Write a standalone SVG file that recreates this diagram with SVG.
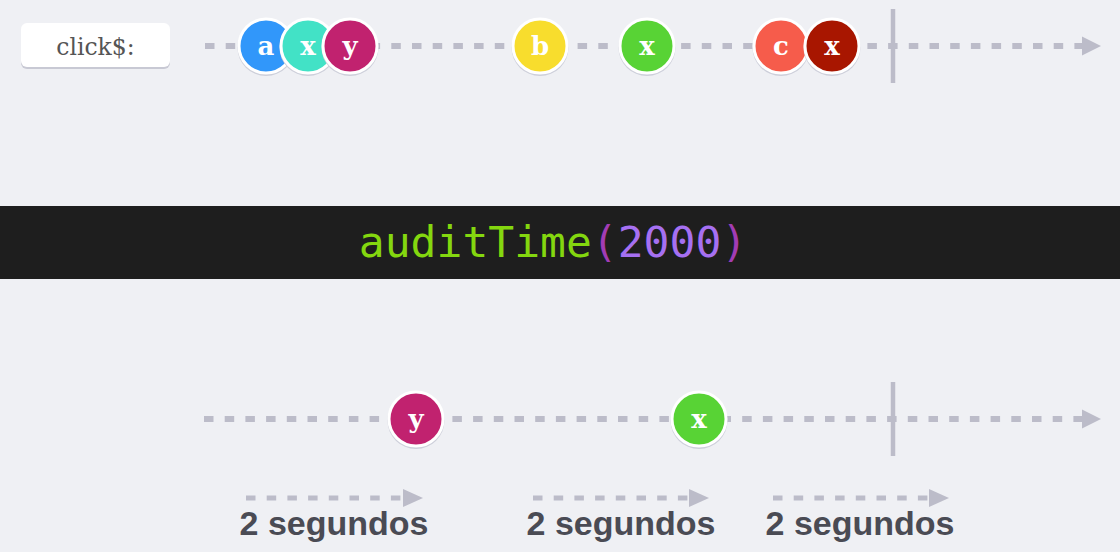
<svg xmlns="http://www.w3.org/2000/svg" width="1120" height="552" viewBox="0 0 1120 552">
  <defs>
    <style>
      .line { stroke: #bcbcc9; stroke-width: 6; stroke-dasharray: 9.5 11.2; fill: none; }
      .small { stroke: #bcbcc9; stroke-width: 5; stroke-dasharray: 9.5 11.2; fill: none; }
      .tick { stroke: #bcbcc9; stroke-width: 4.5; }
      .shadow { fill: #cdcfda; }
      .m { stroke: #ffffff; stroke-width: 3; }
      .lbl { font-family: "DejaVu Serif", "Liberation Serif", serif; font-weight: bold; font-size: 26px; fill: #ffffff; text-anchor: middle; }
      .sec { font-family: "Liberation Sans", Arial, sans-serif; font-weight: bold; font-size: 34px; fill: #4a4b54; text-anchor: middle; }
    </style>
    <marker id="ah" markerUnits="userSpaceOnUse" markerWidth="20" markerHeight="20" refX="0" refY="10" orient="auto" viewBox="0 0 20 20">
      <path d="M0,0.5 L19,10 L0,19.5 z" fill="#bcbcc9"/>
    </marker>
    <marker id="ahs" markerUnits="userSpaceOnUse" markerWidth="20" markerHeight="20" refX="0" refY="10" orient="auto" viewBox="0 0 20 20">
      <path d="M0,1 L20,10 L0,19 z" fill="#bcbcc9"/>
    </marker>
  </defs>
  <rect width="1120" height="552" fill="#eff0f4"/>

  <g id="connectors">
    <path class="line" d="M205,46 H1082" marker-end="url(#ah)"/>
    <line class="tick" x1="893" y1="9" x2="893" y2="83"/>
    <path class="line" d="M204,419 H1082" marker-end="url(#ah)"/>
    <line class="tick" x1="893" y1="382" x2="893" y2="456"/>
    <path class="small" d="M246,498 H403" marker-end="url(#ahs)"/>
    <path class="small" d="M533,498 H689" marker-end="url(#ahs)"/>
    <path class="small" d="M773,498 H929" marker-end="url(#ahs)"/>
  </g>

  <g id="source-label">
    <rect x="21" y="25" width="149" height="44" rx="6" fill="#c8c9d4"/>
    <rect x="21" y="23" width="149" height="44" rx="6" fill="#ffffff"/>
    <text x="95.5" y="55" font-family="'DejaVu Serif', 'Liberation Serif', serif" font-size="23.5" fill="#555555" text-anchor="middle">click$:</text>
  </g>

  <g id="node-a">
    <circle class="shadow" cx="266" cy="47.5" r="28.5"/>
    <circle class="m" cx="266" cy="46" r="27" fill="#3197fa"/>
    <text class="lbl" x="266" y="55">a</text>
  </g>
  <g id="node-x1">
    <circle class="shadow" cx="308" cy="47.5" r="28.5"/>
    <circle class="m" cx="308" cy="46" r="27" fill="#42e2c6"/>
    <text class="lbl" x="308" y="55">x</text>
  </g>
  <g id="node-y1">
    <circle class="shadow" cx="350" cy="47.5" r="28.5"/>
    <circle class="m" cx="350" cy="46" r="27" fill="#c1226f"/>
    <text class="lbl" x="350" y="55">y</text>
  </g>
  <g id="node-b">
    <circle class="shadow" cx="540" cy="47.5" r="28.5"/>
    <circle class="m" cx="540" cy="46" r="27" fill="#f8dd2d"/>
    <text class="lbl" x="540" y="55">b</text>
  </g>
  <g id="node-x2">
    <circle class="shadow" cx="647" cy="47.5" r="28.5"/>
    <circle class="m" cx="647" cy="46" r="27" fill="#58d335"/>
    <text class="lbl" x="647" y="55">x</text>
  </g>
  <g id="node-c">
    <circle class="shadow" cx="781" cy="47.5" r="28.5"/>
    <circle class="m" cx="781" cy="46" r="27" fill="#f65c4b"/>
    <text class="lbl" x="781" y="55">c</text>
  </g>
  <g id="node-x3">
    <circle class="shadow" cx="832" cy="47.5" r="28.5"/>
    <circle class="m" cx="832" cy="46" r="27" fill="#a81600"/>
    <text class="lbl" x="832" y="55">x</text>
  </g>

  <g id="operator">
    <rect x="0" y="206" width="1120" height="73" fill="#1e1e1e"/>
    <text x="553" y="257" font-family="'DejaVu Sans Mono', monospace" font-size="43" text-anchor="middle"><tspan fill="#84d70f">auditTime</tspan><tspan fill="#a23cb4">(</tspan><tspan fill="#a670f2">2000</tspan><tspan fill="#a23cb4">)</tspan></text>
  </g>

  <g id="out-y">
    <circle class="shadow" cx="416" cy="420.5" r="28.5"/>
    <circle class="m" cx="416" cy="419" r="27" fill="#c1226f"/>
    <text class="lbl" x="416" y="428">y</text>
  </g>
  <g id="out-x">
    <circle class="shadow" cx="699" cy="420.5" r="28.5"/>
    <circle class="m" cx="699" cy="419" r="27" fill="#58d335"/>
    <text class="lbl" x="699" y="428">x</text>
  </g>

  <g id="interval-1"><text class="sec" x="334" y="535">2 segundos</text></g>
  <g id="interval-2"><text class="sec" x="621" y="535">2 segundos</text></g>
  <g id="interval-3"><text class="sec" x="860" y="535">2 segundos</text></g>
</svg>
